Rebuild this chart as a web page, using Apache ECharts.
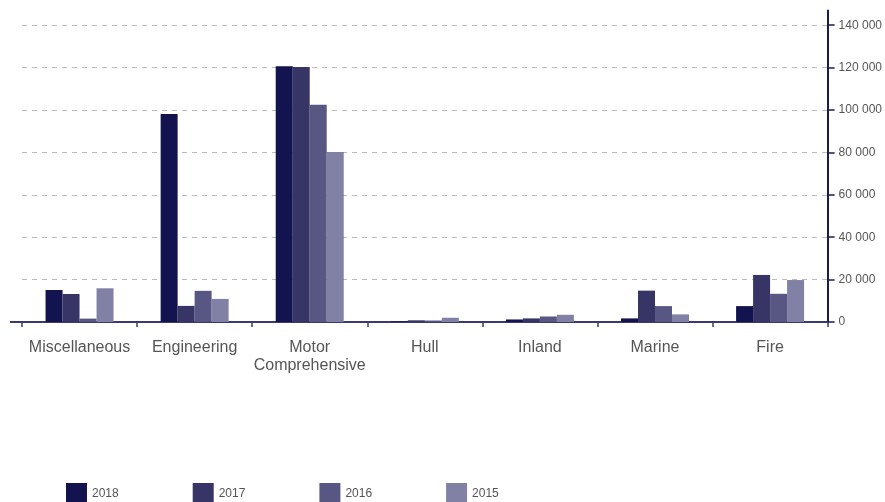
<!DOCTYPE html>
<html>
<head>
<meta charset="utf-8">
<style>
  html, body { margin: 0; padding: 0; background: #ffffff; }
  #chart { width: 885px; height: 502px; }
</style>
<script src="https://cdn.jsdelivr.net/npm/echarts@6/dist/echarts.min.js"></script>
</head>
<body>
<div id="chart"></div>
<script>
// Lines of business shown along the category axis
const categories = ['Miscellaneous', 'Engineering', 'Motor Comprehensive', 'Hull', 'Inland', 'Marine', 'Fire'];

// Yearly values per line of business
const years = ['2018', '2017', '2016', '2015'];
const values2018 = [15100, 98100, 120600, 300, 1200, 1700, 7500];
const values2017 = [13200, 7600, 120300, 800, 1700, 14800, 22200];
const values2016 = [1600, 14700, 102500, 700, 2600, 7500, 13300];
const values2015 = [15900, 10900, 80200, 2000, 3400, 3600, 19800];

// Value axis tick positions
const yTicks = [0, 20000, 40000, 60000, 80000, 100000, 120000, 140000];

const palette = ['#131350', '#363566', '#585783', '#8180a5'];
const seriesValues = [values2018, values2017, values2016, values2015];

const fmt = v => String(v).replace(/\B(?=(\d{3})+(?!\d))/g, ' ');

const chart = echarts.init(document.getElementById('chart'), null, { renderer: 'canvas' });

chart.setOption({
  animation: false,
  backgroundColor: '#ffffff',
  textStyle: { fontFamily: 'Liberation Sans, Arial, sans-serif' },
  grid: { left: 22, right: 53, top: 10.4, bottom: 180, containLabel: false },
  legend: {
    data: years,
    left: 66,
    top: 483,
    padding: 0,
    icon: 'rect',
    itemWidth: 21,
    itemHeight: 21,
    itemGap: 74,
    textStyle: { color: '#555', fontSize: 12, fontFamily: 'Liberation Sans, Arial, sans-serif' }
  },
  xAxis: {
    type: 'category',
    data: categories,
    axisLine: { lineStyle: { color: '#3a3a70', width: 2 } },
    axisTick: { show: true, length: 5, lineStyle: { color: '#3a3a70', width: 1.5 } },
    axisLabel: {
      color: '#555',
      fontSize: 16,
      lineHeight: 18,
      margin: 17,
      interval: 0,
      formatter: v => v.replace(' ', '\n')
    },
    splitLine: { show: false }
  },
  yAxis: {
    type: 'value',
    position: 'right',
    min: 0,
    max: 147000,
    interval: 20000,
    axisLine: { show: true, lineStyle: { color: '#1a1a55', width: 2 } },
    axisTick: { show: true, length: 7, customValues: yTicks, lineStyle: { color: '#1a1a55', width: 1.5 } },
    axisLabel: {
      color: '#555',
      fontSize: 12,
      margin: 11,
      customValues: yTicks,
      formatter: fmt
    },
    splitLine: {
      show: true,
      showMinLine: false,
      showMaxLine: true,
      lineStyle: { color: '#bbbbbb', type: [5, 5], width: 1 }
    }
  },
  graphic: [
    {
      type: 'line',
      shape: { x1: 10, y1: 322, x2: 23, y2: 322 },
      style: { stroke: '#3a3a70', lineWidth: 2 },
      silent: true
    }
  ],
  series: years.map((y, i) => ({
    name: y,
    type: 'bar',
    data: seriesValues[i],
    barWidth: 17,
    barGap: '0%',
    itemStyle: { color: palette[i] }
  }))
});
</script>
</body>
</html>
